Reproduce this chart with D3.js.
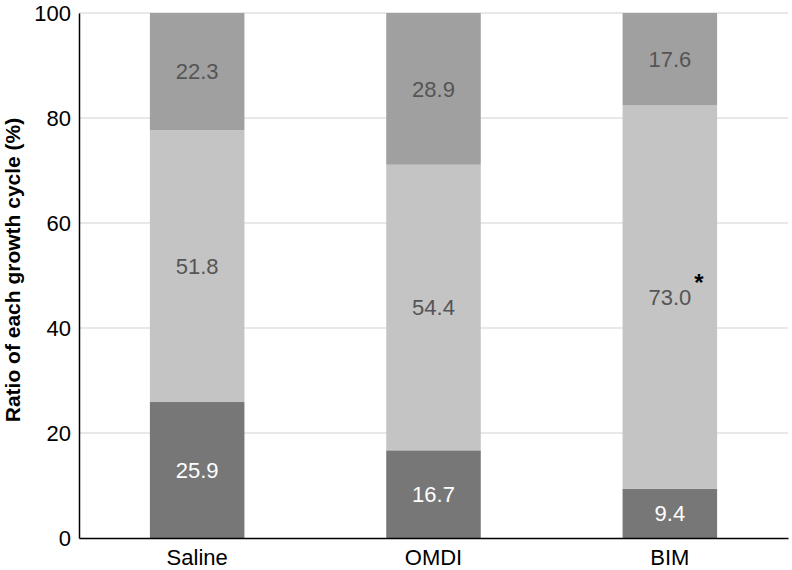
<!DOCTYPE html>
<html>
<head>
<meta charset="utf-8">
<script src="https://cdn.jsdelivr.net/npm/d3@7"></script>
<style>
  body { margin: 0; background: #fff; }
  text { font-family: "Liberation Sans", Arial, sans-serif; }
</style>
</head>
<body>
<script>
// chart data
const groups = ["Saline", "OMDI", "BIM"];
const phases = ["bottom", "middle", "top"];
const bottomValues = [25.9, 16.7, 9.4];
const middleValues = [51.8, 54.4, 73.0];
const topValues = [22.3, 28.9, 17.6];
const yTicks = [0, 20, 40, 60, 80, 100];
const starred = ["BIM"];

const colors = { bottom: "#777777", middle: "#c4c4c4", top: "#a0a0a0" };
const labelColors = { bottom: "#ffffff", middle: "#555555", top: "#555555" };

let margin = {top: 13, left: 79, bottom: 32, right: 4};
let width = 792 - margin.left - margin.right;
let height = 570 - margin.top - margin.bottom;

const svg = d3.select("body").append("svg")
  .attr("width", 792)
  .attr("height", 570)
  .append("g")
  .attr("transform", `translate(${margin.left}, ${margin.top})`);

const rows = groups.map((g, i) => ({
  group: g, bottom: bottomValues[i], middle: middleValues[i], top: topValues[i]
}));
const series = d3.stack().keys(phases)(rows);

const x = d3.scaleBand().domain(groups).range([0, width]).paddingInner(0.6).paddingOuter(0.3);
const y = d3.scaleLinear().domain([0, 100]).range([height, 0]);

// gridlines
svg.append("g")
  .selectAll("line")
  .data(yTicks.filter(t => t > 0))
  .enter().append("line")
  .attr("x1", 0).attr("x2", width)
  .attr("y1", d => y(d)).attr("y2", d => y(d))
  .attr("stroke", "#e0e0e0").attr("stroke-width", 1.5);

// bars
const layers = svg.selectAll(".layer")
  .data(series)
  .enter().append("g")
  .attr("fill", d => colors[d.key]);

layers.selectAll("rect")
  .data(d => d)
  .enter().append("rect")
  .attr("x", d => x(d.data.group))
  .attr("width", x.bandwidth())
  .attr("y", d => y(d[1]))
  .attr("height", d => y(d[0]) - y(d[1]));

// value labels
series.forEach(s => {
  svg.append("g").selectAll("text")
    .data(s)
    .enter().append("text")
    .attr("x", d => x(d.data.group) + x.bandwidth() / 2)
    .attr("y", d => (y(d[0]) + y(d[1])) / 2)
    .attr("dy", "0.36em")
    .attr("text-anchor", "middle")
    .attr("font-size", 22)
    .attr("fill", labelColors[s.key])
    .text(d => d.data[s.key].toFixed(1));
});

// significance star
const mid = series[1];
svg.append("g").selectAll("text")
  .data(mid.filter(d => starred.includes(d.data.group)))
  .enter().append("text")
  .attr("x", d => x(d.data.group) + x.bandwidth() / 2 + 29)
  .attr("y", d => (y(d[0]) + y(d[1])) / 2 - 6)
  .attr("text-anchor", "middle")
  .attr("font-size", 24)
  .attr("font-weight", "bold")
  .attr("fill", "#000")
  .text("*");

// axes
const yAxis = svg.append("g")
  .call(d3.axisLeft(y).tickValues(yTicks).tickSize(0).tickPadding(8));
yAxis.select(".domain").attr("stroke", "#000").attr("stroke-width", 1.5);
yAxis.selectAll("text").attr("font-size", 22).attr("fill", "#000")
  .style("font-family", "Liberation Sans, Arial, sans-serif");

const xAxis = svg.append("g")
  .attr("transform", `translate(0, ${height})`)
  .call(d3.axisBottom(x).tickSize(0).tickPadding(11));
xAxis.select(".domain").attr("stroke", "#000").attr("stroke-width", 1.5);
xAxis.selectAll("text").attr("font-size", 22).attr("fill", "#000")
  .style("font-family", "Liberation Sans, Arial, sans-serif");

// y title
svg.append("text")
  .attr("transform", `translate(-59, 257) rotate(-90)`)
  .attr("text-anchor", "middle")
  .attr("font-size", 21)
  .attr("font-weight", "bold")
  .attr("fill", "#000")
  .text("Ratio of each growth cycle (%)");
</script>
</body>
</html>
